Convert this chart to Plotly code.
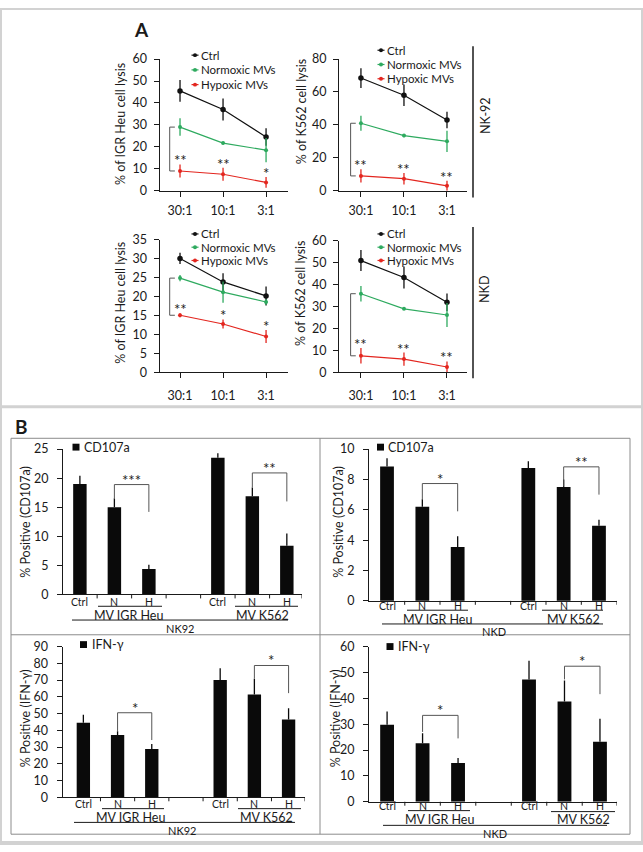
import plotly.graph_objects as go

W, H = 643, 852
FONT = "Lato"
GREEN = "#2eaa5f"
RED = "#e3261f"

# ---------------- Panel A data: % cell lysis ----------------
ratios = ["30:1", "10:1", "3:1"]

igr_nk92_ctrl = [45.5, 37.0, 24.5]
igr_nk92_ctrl_err = [5.0, 5.0, 4.0]
igr_nk92_norm = [29.0, 21.7, 18.5]
igr_nk92_norm_err = [4.0, 0.6, 5.5]
igr_nk92_hyp = [9.0, 7.5, 3.8]
igr_nk92_hyp_err = [3.0, 3.0, 2.5]
igr_nk92_stars = ["**", "**", "*"]

k562_nk92_ctrl = [68.5, 58.0, 43.0]
k562_nk92_ctrl_err = [6.0, 6.5, 5.0]
k562_nk92_norm = [41.0, 33.5, 30.0]
k562_nk92_norm_err = [4.5, 1.0, 6.5]
k562_nk92_hyp = [9.0, 7.3, 3.0]
k562_nk92_hyp_err = [4.0, 3.5, 3.0]
k562_nk92_stars = ["**", "**", "**"]

igr_nkd_ctrl = [30.1, 23.9, 20.2]
igr_nkd_ctrl_err = [1.5, 2.3, 2.5]
igr_nkd_norm = [24.9, 21.2, 18.6]
igr_nkd_norm_err = [0.8, 2.8, 0.7]
igr_nkd_hyp = [15.1, 12.8, 9.5]
igr_nkd_hyp_err = [0.5, 1.2, 1.7]
igr_nkd_stars = ["**", "*", "*"]

k562_nkd_ctrl = [51.0, 43.3, 32.0]
k562_nkd_ctrl_err = [4.8, 5.0, 4.0]
k562_nkd_norm = [35.9, 29.0, 26.2]
k562_nkd_norm_err = [3.5, 0.5, 5.5]
k562_nkd_hyp = [7.6, 6.1, 2.5]
k562_nkd_hyp_err = [3.5, 3.0, 2.5]
k562_nkd_stars = ["**", "**", "**"]

series_names = ["Ctrl", "Normoxic MVs", "Hypoxic MVs"]

# ---------------- Panel B data: % positive ----------------
bar_labels = ["Ctrl", "N", "H", "", "Ctrl", "N", "H"]
bar_pos = [0, 1, 2, 4, 5, 6]

cd107a_nk92 = [19.0, 15.0, 4.4, 23.5, 16.9, 8.4]
cd107a_nk92_err = [1.4, 1.5, 0.7, 0.8, 1.5, 2.1]
cd107a_nkd = [8.85, 6.2, 3.55, 8.75, 7.5, 4.95]
cd107a_nkd_err = [0.55, 0.5, 0.7, 0.45, 0.5, 0.4]
ifn_nk92 = [44.6, 37.2, 28.8, 70.1, 61.4, 46.4]
ifn_nk92_err = [4.7, 2.3, 3.1, 7.0, 9.4, 6.8]
ifn_nkd = [29.8, 22.6, 15.0, 47.3, 38.8, 23.2]
ifn_nkd_err = [5.1, 3.9, 1.9, 7.2, 8.1, 8.9]

# significance: (star text, bracket top, left leg end, right leg end) for IGR Heu and K562 groups
sig_cd107a_nk92 = [("***", 18.9, 16.4, 14.2), ("**", 20.9, 18.4, 16.0)]
sig_cd107a_nkd = [("*", 7.73, 6.69, 5.9), ("**", 8.83, 7.53, 7.0)]
sig_ifn_nk92 = [("*", 50.5, 39.5, 34.2), ("*", 78.7, 70.8, 62.2)]
sig_ifn_nkd = [("*", 33.4, 27.0, 24.5), ("*", 52.4, 47.3, 41.6)]


def fx(px):
    return px / W


def fy(py):
    return 1 - py / H


fig = go.Figure()
layout = dict(
    width=W, height=H, margin=dict(l=0, r=0, t=0, b=0),
    paper_bgcolor="white", plot_bgcolor="rgba(0,0,0,0)",
    showlegend=False, font=dict(family=FONT, color="#1a1a1a"),
)
shapes = []
annotations = []


def axkeys(i):
    return ("xaxis" if i == 1 else f"xaxis{i}", "yaxis" if i == 1 else f"yaxis{i}",
            "x" if i == 1 else f"x{i}", "y" if i == 1 else f"y{i}")


def text(x, y, s, size=12, **kw):
    d = dict(x=fx(x), y=fy(y), xref="paper", yref="paper", text=s, showarrow=False,
             xanchor="center", yanchor="middle",
             font=dict(family=FONT, size=size, color="#1a1a1a"))
    d.update(kw)
    annotations.append(d)


def hline(x0, x1, y, color="#1a1a1a", width=1):
    shapes.append(dict(type="line", xref="paper", yref="paper", x0=fx(x0), x1=fx(x1),
                       y0=fy(y), y1=fy(y), line=dict(color=color, width=width)))


def vline(x, y0, y1, color="#1a1a1a", width=1):
    shapes.append(dict(type="line", xref="paper", yref="paper", x0=fx(x), x1=fx(x),
                       y0=fy(y0), y1=fy(y1), line=dict(color=color, width=width)))


# ---------------- Panel A ----------------
a_panels = [
    dict(i=1, d=(igr_nk92_ctrl, igr_nk92_ctrl_err, igr_nk92_norm, igr_nk92_norm_err,
                 igr_nk92_hyp, igr_nk92_hyp_err), stars=igr_nk92_stars,
         xd=(159.5, 288), xr=(-0.477, 2.51), yd=(52, 186), yr=(0, 60), dt=10, stand=3,
         title="% of IGR Heu cell lysis", tpos=(121, 118), leg=(195, [48, 63, 78])),
    dict(i=2, d=(k562_nk92_ctrl, k562_nk92_ctrl_err, k562_nk92_norm, k562_nk92_norm_err,
                 k562_nk92_hyp, k562_nk92_hyp_err), stars=k562_nk92_stars,
         xd=(339, 467), xr=(-0.51, 2.465), yd=(52, 186), yr=(0, 80), dt=20, stand=3,
         title="% of K562 cell lysis", tpos=(301, 106), leg=(381, [43, 57.5, 72])),
    dict(i=3, d=(igr_nkd_ctrl, igr_nkd_ctrl_err, igr_nkd_norm, igr_nkd_norm_err,
                 igr_nkd_hyp, igr_nkd_hyp_err), stars=igr_nkd_stars,
         xd=(159.5, 288), xr=(-0.477, 2.51), yd=(236, 371), yr=(0, 35), dt=5, stand=7,
         title="% of IGR Heu cell lysis", tpos=(121, 300), leg=(195, [230, 243.5, 257])),
    dict(i=4, d=(k562_nkd_ctrl, k562_nkd_ctrl_err, k562_nkd_norm, k562_nkd_norm_err,
                 k562_nkd_hyp, k562_nkd_hyp_err), stars=k562_nkd_stars,
         xd=(339, 467), xr=(-0.51, 2.465), yd=(237, 371), yr=(0, 60), dt=10, stand=7,
         title="% of K562 cell lysis", tpos=(301, 291), leg=(381, [230, 243.5, 257])),
]

for p in a_panels:
    xk, yk, xr_, yr_ = axkeys(p["i"])
    layout[xk] = dict(domain=[fx(p["xd"][0]), fx(p["xd"][1])], range=list(p["xr"]), anchor=yr_,
                      tickvals=[0, 1, 2], ticktext=ratios, showline=True, linecolor="#1a1a1a",
                      linewidth=1, ticks="outside", ticklen=5, tickcolor="#1a1a1a",
                      showgrid=False, zeroline=False, ticklabelstandoff=p["stand"],
                      tickfont=dict(family=FONT, size=12.5, color="#1a1a1a"))
    layout[yk] = dict(domain=[fy(p["yd"][1]), fy(p["yd"][0])], range=list(p["yr"]), anchor=xr_,
                      dtick=p["dt"], showline=True, linecolor="#1a1a1a", linewidth=1,
                      ticks="outside", ticklen=5, tickcolor="#1a1a1a", showgrid=False,
                      zeroline=False, ticklabelstandoff=4,
                      tickfont=dict(family=FONT, size=12.5, color="#1a1a1a"))
    ctrl, ctrl_e, norm, norm_e, hyp, hyp_e = p["d"]
    for vals, errs, col, msize, nm in [(ctrl, ctrl_e, "#111111", 5.5, series_names[0]),
                                       (norm, norm_e, GREEN, 4, series_names[1]),
                                       (hyp, hyp_e, RED, 4, series_names[2])]:
        fig.add_trace(go.Scatter(
            x=[0, 1, 2], y=vals, mode="lines+markers", name=nm, xaxis=xr_, yaxis=yr_,
            line=dict(color=col, width=1.2), marker=dict(color=col, size=msize),
            error_y=dict(type="data", array=errs, visible=True, color=col, thickness=1.3, width=0),
        ))
    # significance stars above hypoxic error bars
    for k, s in enumerate(p["stars"]):
        annotations.append(dict(x=k, y=hyp[k] + hyp_e[k], xref=xr_, yref=yr_, text=s,
                                showarrow=False, xanchor="center", yanchor="middle", yshift=4,
                                font=dict(family=FONT, size=15, color="#1a1a1a")))
    # bracket at 30:1 between normoxic and hypoxic
    shapes.append(dict(type="path", xref=xr_, yref=yr_,
                       path=f"M -0.12,{norm[0]} L -0.24,{norm[0]} L -0.24,{hyp[0]} L -0.12,{hyp[0]}",
                       line=dict(color="#555555", width=1)))
    # axis title
    text(p["tpos"][0], p["tpos"][1], p["title"], size=12.5, textangle=-90)
    # legend
    cx, ys = p["leg"]
    for nm, col, yy in zip(series_names, ["#111111", GREEN, RED], ys):
        hline(cx - 3.5, cx + 3.5, yy, color=col, width=1.2)
        shapes.append(dict(type="circle", xref="paper", yref="paper", x0=fx(cx - 2), x1=fx(cx + 2),
                           y0=fy(yy + 2), y1=fy(yy - 2), fillcolor=col, line=dict(color=col, width=0)))
        text(cx + 5, yy, nm, size=11.5, xanchor="left", borderpad=0)

# Panel A labels and side lines
text(141, 22, "<b>A</b>", size=19)
vline(473, 39, 193, width=1.5)
vline(473, 223, 377, width=1.5)
text(485, 110, "NK-92", size=12.5, textangle=-90)
text(485, 287, "NKD", size=12.5, textangle=-90)

# ---------------- Panel B ----------------
b_panels = [
    dict(i=5, vals=cd107a_nk92, errs=cd107a_nk92_err, sig=sig_cd107a_nk92, leg="CD107a",
         title="% Positive (CD107a)", tpos=(26, 523), lpos=(76, 447),
         xd=(63, 302), xr=(-0.49, 6.44), yd=(449, 597), yr=(0, 25), dt=5,
         nh=(98, 162, 609), kl=(235, 298, 609), lo=(72, 288, 623),
         t_igr=128, t_k=262, cell="NK92", t_cell=180),
    dict(i=6, vals=cd107a_nkd, errs=cd107a_nkd_err, sig=sig_cd107a_nkd, leg="CD107a",
         title="% Positive (CD107a)", tpos=(339, 523), lpos=(380.5, 447),
         xd=(369, 617), xr=(-0.51, 6.51), yd=(449, 603.5), yr=(0, 10), dt=2,
         nh=(407, 468, 613), kl=(542, 603, 613), lo=(382, 603, 627),
         t_igr=437, t_k=573, cell="NKD", t_cell=494),
    dict(i=7, vals=ifn_nk92, errs=ifn_nk92_err, sig=sig_ifn_nk92, leg="IFN-γ",
         title="% Positive (IFN-γ)", tpos=(25, 723), lpos=(83.5, 648),
         xd=(62.5, 305), xr=(-0.61, 6.48), yd=(650, 803.5), yr=(0, 90), dt=10,
         nh=(102, 164, 815), kl=(238, 301, 815), lo=(74, 295, 829),
         t_igr=130, t_k=266, cell="NK92", t_cell=182),
    dict(i=8, vals=ifn_nkd, errs=ifn_nkd_err, sig=sig_ifn_nkd, leg="IFN-γ",
         title="% Positive (IFN-γ)", tpos=(335, 723), lpos=(390, 650),
         xd=(369, 617), xr=(-0.51, 6.48), yd=(650, 808), yr=(0, 60), dt=10,
         nh=(408, 470, 817), kl=(551, 615, 818), lo=(383, 607, 832),
         t_igr=440, t_k=583, cell="NKD", t_cell=495),
]

for p in b_panels:
    xk, yk, xr_, yr_ = axkeys(p["i"])
    layout[xk] = dict(domain=[fx(p["xd"][0]), fx(p["xd"][1])], range=list(p["xr"]), anchor=yr_,
                      showticklabels=False, showline=True,
                      linecolor="#1a1a1a", linewidth=1, ticks="", showgrid=False, zeroline=False)
    layout[yk] = dict(domain=[fy(p["yd"][1]), fy(p["yd"][0])], range=list(p["yr"]), anchor=xr_,
                      dtick=p["dt"], showline=True, linecolor="#1a1a1a", linewidth=1,
                      ticks="outside", ticklen=5, tickcolor="#1a1a1a", showgrid=False,
                      zeroline=False, ticklabelstandoff=6,
                      tickfont=dict(family=FONT, size=12.5, color="#1a1a1a"))
    fig.add_trace(go.Bar(
        x=bar_pos, y=p["vals"], xaxis=xr_, yaxis=yr_, width=0.39, name=p["leg"],
        marker=dict(color="#0a0a0a", line=dict(width=0)),
        error_y=dict(type="data", array=p["errs"], arrayminus=[0] * len(p["errs"]),
                     symmetric=False, visible=True, color="#0a0a0a", thickness=1.3, width=0),
    ))
    # boundary tick marks on the category axis
    ybase = p["yd"][1]
    for b in [0.5, 1.5, 2.5, 3.5, 4.5, 5.5, p["xr"][1]]:
        shapes.append(dict(type="line", xref=xr_, yref="paper", x0=b, x1=b,
                           y0=fy(ybase), y1=fy(ybase + 4), line=dict(color="#1a1a1a", width=1)))
    # category labels sitting on the group line
    nh_y = p["nh"][2]
    for k, lab in enumerate(bar_labels):
        if lab:
            annotations.append(dict(x=k, y=fy(nh_y + 2.5), xref=xr_, yref="paper", text=lab,
                                    showarrow=False, xanchor="center", yanchor="bottom",
                                    borderpad=0,
                                    font=dict(family=FONT, size=10.5, color="#1a1a1a")))
    # significance brackets (N vs H)
    for (star, top, lft, rgt), (xa, xb) in zip(p["sig"], [(1, 2), (5, 6)]):
        shapes.append(dict(type="path", xref=xr_, yref=yr_,
                           path=f"M {xa},{lft} L {xa},{top} L {xb},{top} L {xb},{rgt}",
                           line=dict(color="#555555", width=1)))
        annotations.append(dict(x=(xa + xb) / 2, y=top, xref=xr_, yref=yr_, text=star,
                                showarrow=False, xanchor="center", yanchor="middle", yshift=5,
                                font=dict(family=FONT, size=15, color="#1a1a1a")))
    # legend square + label
    lx, ly = p["lpos"]
    shapes.append(dict(type="rect", xref="paper", yref="paper", x0=fx(lx - 3.5), x1=fx(lx + 3.5),
                       y0=fy(ly + 3.5), y1=fy(ly - 3.5), fillcolor="#0a0a0a", line=dict(width=0)))
    text(lx + 6, ly, p["leg"], size=12.5, xanchor="left")
    # axis title
    text(p["tpos"][0], p["tpos"][1], p["title"], size=12.5, textangle=-90)
    # group labels
    hline(p["nh"][0], p["nh"][1], p["nh"][2])
    hline(p["kl"][0], p["kl"][1], p["kl"][2])
    hline(p["lo"][0], p["lo"][1], p["lo"][2])
    text(p["t_igr"], nh_y + 0.5, "MV IGR Heu", size=12.5, yanchor="top", borderpad=0)
    text(p["t_k"], nh_y + 0.5, "MV K562", size=12.5, yanchor="top", borderpad=0)
    text(p["t_cell"], p["lo"][2] + 0.5, p["cell"], size=11, yanchor="top", borderpad=0)

text(13, 426, "<b>B</b>", size=19, xanchor="left")

# Panel B frame
shapes.append(dict(type="rect", xref="paper", yref="paper", x0=fx(11), x1=fx(630),
                   y0=fy(841), y1=fy(438), line=dict(color="#8c8c8c", width=1)))
vline(320, 438, 841, color="#8c8c8c")
hline(11, 630, 638, color="#8c8c8c")

# Outer frame and separator
shapes.append(dict(type="rect", xref="paper", yref="paper", x0=fx(1), x1=fx(642),
                   y0=fy(851), y1=fy(1), line=dict(color="#d2d2d2", width=2)))
hline(0, 643, 406, color="#d2d2d2", width=3)
hline(0, 643, 850, color="#d2d2d2", width=4)

layout["shapes"] = shapes
layout["annotations"] = annotations
fig.update_layout(**layout)
fig.write_html("out.html", config={"displayModeBar": False},
               post_script="document.body.style.margin='0';document.body.style.overflow='hidden';")
